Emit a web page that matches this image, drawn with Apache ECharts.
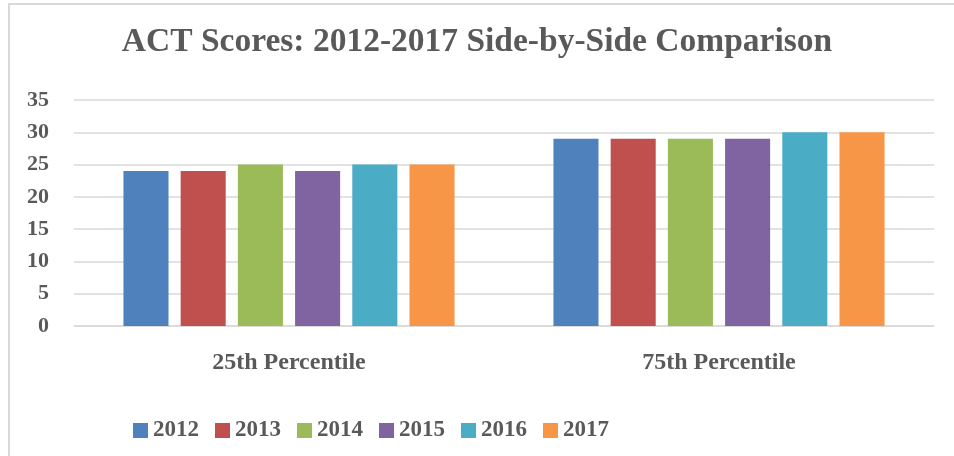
<!DOCTYPE html>
<html>
<head>
<meta charset="utf-8">
<script src="https://cdn.jsdelivr.net/npm/echarts@6/dist/echarts.min.js"></script>
<style>
  html, body { margin: 0; padding: 0; background: #fff; }
  #frame { position: absolute; left: 8px; top: 3px; width: 946px; height: 453px;
           border-top: 2px solid #d9d9d9; border-left: 2px solid #d9d9d9; box-sizing: border-box; }
  #chart { width: 954px; height: 456px; position: absolute; left: 0; top: 0; }
</style>
</head>
<body>
<div id="frame"></div>
<div id="chart"></div>
<script>
const categories = ['25th Percentile', '75th Percentile']
const years = ['2012', '2013', '2014', '2015', '2016', '2017']
const s2012 = [24, 29]
const s2013 = [24, 29]
const s2014 = [25, 29]
const s2015 = [24, 29]
const s2016 = [25, 30]
const s2017 = [25, 30]
const colors = ['#4F81BD', '#C0504D', '#9BBB59', '#8064A2', '#4BACC6', '#F79646']

const font = '"Liberation Serif", "DejaVu Serif", serif'
const seriesData = [s2012, s2013, s2014, s2015, s2016, s2017]

const chart = echarts.init(document.getElementById('chart'))

chart.setOption({
  animation: false,
  color: colors,
  title: {
    text: 'ACT Scores: 2012-2017 Side-by-Side Comparison',
    left: 'center',
    top: 20,
    textStyle: { fontFamily: font, fontSize: 33.5, fontWeight: 'bold', color: '#595959' },
  },
  legend: {
    data: years,
    bottom: 9,
    left: 128,
    itemWidth: 15,
    itemHeight: 15,
    itemGap: 16,
    icon: 'rect',
    textStyle: { fontFamily: font, fontSize: 23, fontWeight: 'bold', color: '#595959' },
  },
  grid: {
    left: 74,
    right: 20,
    top: 100,
    bottom: 130,
  },
  xAxis: {
    type: 'category',
    data: categories,
    axisTick: { show: false },
    axisLine: { lineStyle: { color: '#d9d9d9', width: 1.5 } },
    axisLabel: {
      margin: 25,
      fontFamily: font, fontSize: 24, fontWeight: 'bold', color: '#595959',
    },
  },
  yAxis: {
    type: 'value',
    min: 0,
    max: 35,
    interval: 5,
    axisLabel: {
      margin: 25,
      fontFamily: font, fontSize: 22, fontWeight: 'bold', color: '#595959',
    },
    splitLine: { lineStyle: { color: '#d9d9d9', width: 1.5 } },
  },
  series: years.map((y, i) => ({
    name: y,
    type: 'bar',
    data: seriesData[i],
    barGap: '27%',
    barCategoryGap: '23%',
  })),
})
</script>
</body>
</html>
